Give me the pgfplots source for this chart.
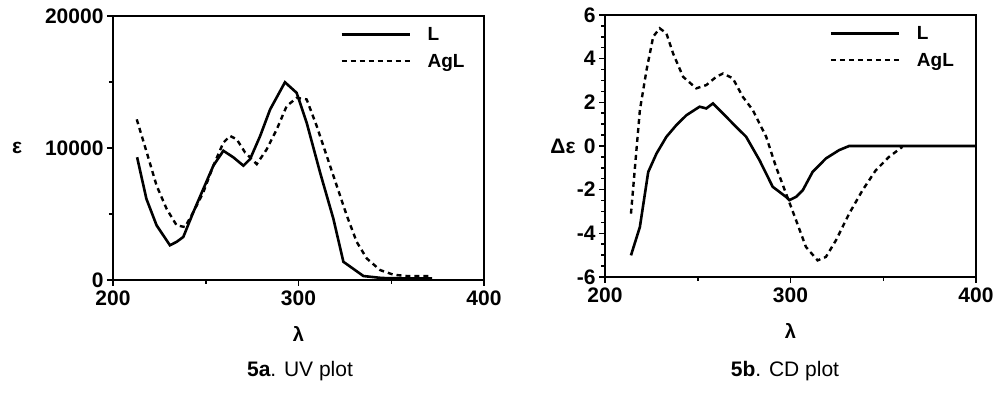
\documentclass[border=0pt]{standalone}
\usepackage{fontspec}
\setmainfont{Liberation Sans}
\usepackage{pgfplots}
\pgfplotsset{compat=1.18}
\pgfplotsset{
  mystyle/.style={
    scale only axis,
    width=371pt,
    axis line style={line width=1.8pt},
    every tick/.style={line width=1.5pt,black},
    major tick length=6pt,
    minor tick length=4pt,
    tick align=outside,
    tick pos=left,
    xmin=200,xmax=400,
    xtick={200,300,400},
    minor x tick num=1,
    /pgf/number format/assume math mode=true,
    /pgf/number format/1000 sep={},
    ticklabel style={font=\fontsize{21}{22}\selectfont\bfseries},
    xticklabel style={yshift=-1pt},
    xlabel={\textbf{λ}},
    xlabel style={font=\fontsize{20}{22}\selectfont, yshift=-14pt},
    ylabel style={rotate=-90,font=\fontsize{21}{22}\selectfont\bfseries},
    legend style={draw=none,fill=none,font=\fontsize{19}{22}\selectfont\bfseries,
      anchor=north west,row sep=8pt,inner sep=0pt},
    legend cell align=left,
    legend image code/.code={\draw[#1] (0pt,0pt) -- (68pt,0pt); \path[draw=none] (0pt,0pt) -- (84pt,0pt);},
  },
  solidL/.style={black,line width=2.6pt},
  dotL/.style={black,line width=2.4pt,dash pattern=on 5pt off 4pt},
}
\begin{document}
\begin{tikzpicture}
\useasboundingbox (0,0) rectangle (997pt,398pt);
\begin{axis}[mystyle,
  at={(113pt,118pt)},anchor=south west,
  height=264pt,
  ymin=0,ymax=20000,
  ytick={0,10000,20000},
  minor y tick num=1,
  scaled y ticks=false,
  ylabel={ε},
  ylabel style={at={(axis description cs:0,0.5)},anchor=center,xshift=-96pt},
  legend style={at={(0.612,0.965)}},
]
\addplot[solidL] coordinates {
(213,9300) (218,6150) (223.5,4140) (230.7,2630) (234.3,2890) (237.9,3260)
(243.3,5140) (248.7,6900) (254.1,8660) (259.5,9790) (264.9,9290) (270.3,8660)
(273.9,9160) (279.3,10900) (284.7,12920) (292.7,14980) (299,14180) (304.4,11920)
(311.6,8160) (318.8,4640) (324.2,1380) (335,300) (345,150) (360,120) (372,120)
};
\addlegendentry{L}
\addplot[dotL] coordinates {
(212.8,12170) (218.2,9660) (223.5,7150) (228.9,5390) (234.3,4140) (238.8,4010)
(243.3,5140) (248.7,6650) (254.1,8660) (259.5,10410) (263.1,10910) (266.7,10660)
(271.2,9660) (274.8,9160) (277.5,8780) (282.9,9910) (288.3,11420) (293.6,13170)
(299,13800) (304.4,13680) (309.8,11670) (315.2,9410) (320.6,7150) (326,4890)
(331.4,2880) (336.8,1630) (344,750) (351.2,400) (358.4,300) (371,300)
};
\addlegendentry{AgL}
\end{axis}
\node[font=\fontsize{21}{24}\selectfont] at (300pt,27pt) {\textbf{5a}. UV plot};
\begin{axis}[mystyle,
  at={(605pt,121pt)},anchor=south west,
  height=262pt,
  ymin=-6,ymax=6,
  ytick={-6,-4,-2,0,2,4,6},
  minor y tick num=3,
  ylabel={Δε},
  ylabel style={at={(axis description cs:0,0.5)},anchor=center,xshift=-42pt},
  legend style={at={(0.605,0.965)}},
]
\addplot[solidL] coordinates {
(214,-5.01) (218.8,-3.71) (223.3,-1.19) (227.8,-0.34) (233.1,0.42) (238.5,0.96)
(243.9,1.41) (251,1.80) (254.6,1.72) (258.2,1.95) (263.6,1.49) (268.9,1.03)
(276.1,0.42) (283.3,-0.65) (290.4,-1.87) (297.6,-2.33) (299.4,-2.48) (303,-2.33)
(306.6,-2.03) (311.9,-1.19) (319.1,-0.57) (326.2,-0.19) (331.6,0) (400,0)
};
\addlegendentry{L}
\addplot[dotL] coordinates {
(214,-3.10) (218.8,1.64) (222.4,3.48) (226,5.01) (229.5,5.39) (233.1,5.16)
(236.7,4.24) (242.1,3.17) (249.2,2.64) (254.6,2.79) (260,3.17) (263.6,3.32)
(268.9,3.10) (274.3,2.25) (279.7,1.64) (286.9,0.42) (292.2,-0.96) (297.6,-2.18)
(303,-3.40) (308.3,-4.62) (314.6,-5.24) (319.1,-5.08) (324.5,-4.32) (331.6,-3.10)
(338.8,-2.03) (345.9,-1.12) (353.1,-0.50) (360.3,-0.04)
};
\addlegendentry{AgL}
\end{axis}
\node[font=\fontsize{21}{24}\selectfont] at (785pt,27pt) {\textbf{5b}. CD plot};
\end{tikzpicture}
\end{document}
